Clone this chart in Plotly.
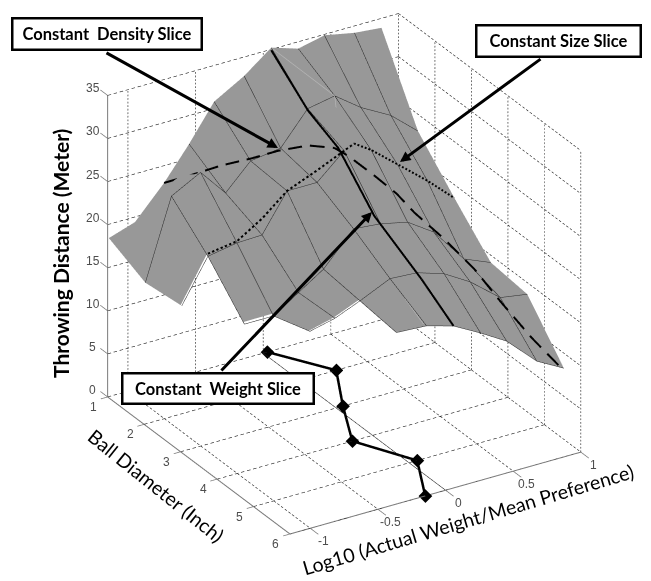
import math
import plotly.graph_objects as go

weight = [-1.141, -0.948, -0.733, -0.548, -0.363, -0.141, 0.059, 0.259, 0.452, 0.674, 0.874]
diameter = [1, 2, 3, 4, 5, 6]
N = None
distance = [
    [18.4, 19.4, 23.0, 26.7, 30.8, 32.8, 35.2, 34.2, 34.9, 34.2, 33.9],
    [16.4, 25.6, 27.4, 24.2, 27.1, 27.6, 31.3, 31.9, 29.7, 27.8, 25.1],
    [16.9, 21.8, 22.4, 22.5, 26.8, 26.8, 29.6, 28.8, 26.3, 23.4, 20.5],
    [N, 17.1, 17.1, 19.0, 20.9, 24.6, 24.3, 23.6, 21.6, 17.5, 16.2],
    [N, N, 18.5, 19.2, 20.4, 22.0, 21.8, 20.8, 19.0, 16.2, 15.7],
    [N, N, N, N, 19.9, 19.7, 18.8, 17.1, 15.3, 12.0, 10.3],
]
weight_slice_x = [0.059, 0.064, 0.016, 0.013, 0.092, 0.059]
weight_slice_y = [1, 2, 3, 4, 5, 6]
weight_slice_z = [34.9, 31.0, 30.1, 25.4, 20.9, 18.8]
floor_x = [0.03, 0.27, 0.05, -0.15, 0.06, -0.15]
floor_y = [1, 2, 3, 4, 5, 6]
floor_z = [0, 0, 0, 0, 0, 0]
density_x = [-0.733, -0.613, -0.505, -0.385, -0.279, -0.159, -0.054, 0.001, 0.105, 0.194, 0.265, 0.385, 0.504, 0.612, 0.733, 0.841]
density_y = [1.0, 1.38, 1.72, 2.10, 2.44, 2.82, 3.15, 3.33, 3.66, 3.94, 4.16, 4.54, 4.92, 5.27, 5.65, 5.99]
density_z = [23.0, 24.7, 26.3, 27.8, 29.3, 30.6, 30.9, 30.3, 28.6, 27.0, 25.2, 22.8, 20.0, 16.7, 13.3, 10.7]
size_x = [-0.948, -0.733, -0.548, -0.363, -0.141, 0.059, 0.133, 0.259, 0.452, 0.674, 0.874]
size_z = [22.1, 22.6, 24.4, 26.8, 28.2, 29.6, 30.1, 28.8, 26.3, 23.4, 20.5]
size_y = 3
ghost_x = [0.059, 0.259, -0.044, -0.163]
ghost_y = [1, 2, 3.5, 6]
ghost_z = [35.2, 31.9, 23.5, 20.0]

x_ticks = [-1, -0.5, 0, 0.5, 1]
x_labels = ["-1", "-0.5", "0", "0.5", "1"]
y_ticks = [1, 2, 3, 4, 5, 6]
z_ticks = [0, 5, 10, 15, 20, 25, 30, 35]
x_lo, x_hi = -1.15, 1.0
y_lo, y_hi = 1, 6
z_lo, z_hi = 0, 35

# scene layout
RX, RY, RZ = (-1.3, 1.2), (6.5, 0.5), (-2, 38)
ASPECT = dict(x=1.365, y=1.443, z=1.336)
VIEW = (-0.4635, -0.7575, 0.460)
DIST = 1.475
CENTER = dict(x=-0.0832, y=0.0100, z=-0.0672)
EYE = dict(x=CENTER["x"] + VIEW[0] * DIST, y=CENTER["y"] + VIEW[1] * DIST, z=CENTER["z"] + VIEW[2] * DIST)
PX = (158.0, 70.0, 9.7)  # rough pixels per data unit, for dash lengths

unit = (ASPECT["x"] / (RX[1] - RX[0]), ASPECT["y"] / abs(RY[1] - RY[0]), ASPECT["z"] / (RZ[1] - RZ[0]))

def toward_eye(xs, ys, zs, k):
    """Slide a path along the line of sight so it sits in front of the surface without moving on screen."""
    return ([a + VIEW[0] * k / unit[0] for a in xs],
            [b - VIEW[1] * k / unit[1] for b in ys],
            [c + VIEW[2] * k / unit[2] for c in zs])

def dashed(xs, ys, zs, on, off):
    ox, oy, oz = [], [], []
    pos = 0.0
    period = on + off
    for a in range(len(xs) - 1):
        d = [xs[a + 1] - xs[a], ys[a + 1] - ys[a], zs[a + 1] - zs[a]]
        L = math.sqrt(sum((d[i] * PX[i]) ** 2 for i in range(3)))
        s = 0.0
        while s < L:
            ph = (pos + s) % period
            if ph < on:
                e = min(L, s + on - ph)
                ox += [xs[a] + d[0] * s / L, xs[a] + d[0] * e / L]
                oy += [ys[a] + d[1] * s / L, ys[a] + d[1] * e / L]
                oz += [zs[a] + d[2] * s / L, zs[a] + d[2] * e / L]
                if not (e >= L and a < len(xs) - 2 and ph + (e - s) < on):
                    ox.append(None); oy.append(None); oz.append(None)
                s = e
            else:
                s += period - ph
        pos += L
    return ox, oy, oz

fig = go.Figure()

def path(xs, ys, zs, color="black", width=1, k=0.0):
    if k:
        keep = [v is not None for v in xs]
        ax, ay, az = toward_eye([v if v is not None else 0 for v in xs],
                                [v if v is not None else 0 for v in ys],
                                [v if v is not None else 0 for v in zs], k)
        xs = [v if f else None for v, f in zip(ax, keep)]
        ys = [v if f else None for v, f in zip(ay, keep)]
        zs = [v if f else None for v, f in zip(az, keep)]
    fig.add_trace(go.Scatter3d(x=xs, y=ys, z=zs, mode="lines", line=dict(color=color, width=width),
                               showlegend=False, hoverinfo="skip"))

# dashed box grid, collected by style
gx, gy, gz = [], [], []
vx, vy, vz = [], [], []
def add(store, seg):
    for s, p in zip(store, seg):
        s += p + [None]
for v in x_ticks:
    add((gx, gy, gz), dashed([v, v], [y_lo, y_hi], [0, 0], 4, 3))
    add((vx, vy, vz), dashed([v, v], [y_lo, y_lo], [z_lo, z_hi], 2, 2))
for v in y_ticks:
    add((gx, gy, gz), dashed([x_lo, x_hi], [v, v], [0, 0], 4, 3))
    add((vx, vy, vz), dashed([x_hi, x_hi], [v, v], [z_lo, z_hi], 2, 2))
for v in z_ticks:
    add((gx, gy, gz), dashed([x_lo, x_hi], [y_lo, y_lo], [v, v], 4, 3))
    add((gx, gy, gz), dashed([x_hi, x_hi], [y_lo, y_hi], [v, v], 4, 3))
path(gx, gy, gz, color="#1a1a1a", width=1.2)
path(vx, vy, vz, color="#1a1a1a", width=1.2)

# axes and tick marks
AX = "#7a7a7a"
path([x_lo, x_hi], [y_hi, y_hi], [0, 0], color=AX, width=2)
path([x_lo, x_lo], [y_lo, y_hi], [0, 0], color=AX, width=2)
path([x_lo, x_lo], [y_lo, y_lo], [z_lo, z_hi], color=AX, width=2)
for v in x_ticks:
    path([v, v], [y_hi, y_hi + 0.22], [0, 0], color=AX, width=1.5)
for v in y_ticks:
    path([x_lo, x_lo - 0.05], [v, v], [0, 0], color=AX, width=1.5)
for v in z_ticks:
    path([x_lo, x_lo], [y_lo, y_lo - 0.2], [v, v], color=AX, width=1.5)

fig.add_trace(go.Surface(x=weight, y=diameter, z=distance, showscale=False,
                         colorscale=[[0, "#989898"], [1, "#989898"]],
                         lighting=dict(ambient=1, diffuse=0, specular=0, roughness=1, fresnel=0),
                         hoverinfo="skip"))

# mesh lines drawn on the surface
MESH = "#2a2a2a"
for j in range(1, 6):
    xs = [x for x, z in zip(weight, distance[j]) if z is not None]
    zs = [z for z in distance[j] if z is not None]
    if j == 2:
        xs, zs = xs[:7], zs[:7]
    path(xs, [diameter[j]] * len(xs), zs, color=MESH, width=1, k=0.012)
for i in range(1, 10):
    start = 1 if i <= 2 else 0
    ys = [diameter[j] for j in range(start, 6) if distance[j][i] is not None]
    zs = [distance[j][i] for j in range(start, 6) if distance[j][i] is not None]
    path([weight[i]] * len(ys), ys, zs, color=MESH, width=1, k=0.012)
path(ghost_x, ghost_y, ghost_z, color="#b4b4b4", width=1.5, k=0.012)

# slices
path(weight_slice_x, weight_slice_y, weight_slice_z, width=4, k=0.05)
dx, dy, dz = dashed(density_x, density_y, density_z, 16, 9)
path(dx, dy, dz, width=4, k=0.05)
sx, sy, sz = dashed(size_x, [size_y] * len(size_x), size_z, 2.5, 2.5)
path(sx, sy, sz, width=4, k=0.05)
path([0, 0], [y_lo, y_hi], [0, 0], color="#222222", width=1)
fig.add_trace(go.Scatter3d(x=floor_x, y=floor_y, z=floor_z, mode="lines+markers",
                           line=dict(color="black", width=5),
                           marker=dict(color="black", size=4.5, symbol="diamond"),
                           showlegend=False, hoverinfo="skip"))

TICK = dict(family="Liberation Sans", size=12, color="#4d4d4d")
scene_notes = []
for v, t in zip(x_ticks, x_labels):
    scene_notes.append(dict(x=v, y=y_hi, z=0, text=t, showarrow=False, xshift=13, yshift=-13, font=TICK))
for v in y_ticks:
    scene_notes.append(dict(x=x_lo, y=v, z=0, text=str(v), showarrow=False, xshift=-14, yshift=-10, font=TICK))
for v in z_ticks:
    scene_notes.append(dict(x=x_lo, y=y_lo, z=v, text=str(v), showarrow=False, xshift=-15, yshift=7, font=TICK))

hidden = dict(visible=False, showgrid=False, zeroline=False, showbackground=False, showspikes=False)
fig.update_layout(
    width=651, height=581, margin=dict(l=0, r=0, t=0, b=0),
    paper_bgcolor="white", showlegend=False,
    scene=dict(
        domain=dict(x=[0, 1], y=[0, 1]),
        xaxis=dict(range=list(RX), **hidden),
        yaxis=dict(range=list(RY), **hidden),
        zaxis=dict(range=list(RZ), **hidden),
        aspectmode="manual", aspectratio=ASPECT,
        annotations=scene_notes,
        camera=dict(projection=dict(type="orthographic"), up=dict(x=0, y=0, z=1),
                    center=CENTER, eye=EYE),
    ),
)

def box(text, x, y, w, h):
    fig.add_annotation(xref="paper", yref="paper", x=x / 651, y=1 - y / 581, text="<b>%s</b>" % text,
                       xanchor="center", yanchor="middle",
                       showarrow=False, width=w, height=h, bgcolor="white", bordercolor="black",
                       borderwidth=2.5, font=dict(family="Lato", size=16.5, color="black"))

def arrow(x0, y0, x1, y1):
    fig.add_annotation(xref="paper", yref="paper", axref="pixel", ayref="pixel",
                       x=x1 / 651, y=1 - y1 / 581, ax=x0 - x1, ay=y0 - y1, text="",
                       showarrow=True, arrowhead=2, arrowsize=0.7, arrowwidth=3, arrowcolor="black")

arrow(105, 52, 278, 148)
arrow(542, 58, 400, 162)
arrow(220, 372, 372, 212)
box("Constant  Density Slice", 107, 34, 185, 27)
box("Constant Size Slice", 558.5, 41, 160, 27)
box("Constant  Weight Slice", 218, 388.5, 187, 26)

def title(text, x, y, angle, size):
    fig.add_annotation(xref="paper", yref="paper", x=x / 651, y=1 - y / 581, text=text, showarrow=False,
                       xanchor="center", yanchor="middle",
                       textangle=angle, font=dict(family="Lato", size=size, color="black"))

title("<b>Throwing Distance (Meter)</b>", 60, 254, -90, 21)
title("Ball Diameter (Inch)", 156, 485, 38.7, 19.5)
title("Log10 (Actual Weight/Mean Preference)", 468, 519, -16.5, 19.5)

fig.write_html("out.html", config={"displayModeBar": False}, post_script="document.body.style.margin='0';")
